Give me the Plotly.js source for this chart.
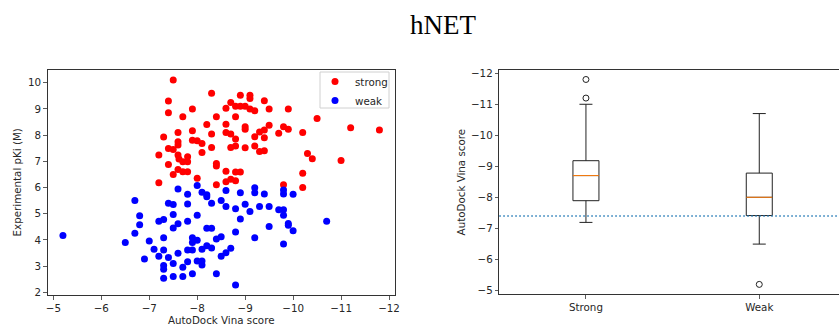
<!DOCTYPE html>
<html><head><meta charset="utf-8">
<script src="https://cdn.plot.ly/plotly-3.0.1.min.js"></script>
<style>html,body{margin:0;padding:0;background:#fff}#chart{width:839px;height:324px}</style>
</head><body><div id="chart"></div>
<script>
// Scatter: strong binders
const strongX = [-7.5,-7.4,-7.4,-7.7,-7.9,-8.3,-8.4,-8.2,-7.9,-7.6,-7.3,-7.6,-7.6,-7.9,-8.0,-8.1,-8.3,-8.3,-8.1,-7.4,-7.5,-7.2,-7.6,-7.62,-7.8,-7.8,-7.7,-7.4,-7.6,-7.7,-7.8,-7.5,-8.0,-8.4,-8.4,-8.4,-7.2,-8.6,-8.7,-8.8,-8.9,-8.9,-9.0,-9.1,-9.1,-9.1,-9.2,-9.4,-9.5,-9.9,-10.5,-8.6,-8.8,-9.0,-9.0,-8.6,-8.7,-8.8,-8.7,-8.8,-9.0,-9.2,-9.2,-9.3,-9.4,-9.4,-9.5,-9.3,-9.4,-9.7,-9.8,-9.9,-10.2,-10.3,-10.4,-11.0,-11.2,-11.8,-8.6,-8.8,-8.9,-8.6,-8.7,-8.8,-9.8,-10.2,-10.2];
const strongY = [10.1,9.3,8.85,8.7,9.0,9.6,8.7,8.4,8.17,8.1,7.93,7.75,7.62,7.8,7.78,7.68,8.04,7.53,7.34,7.49,7.45,7.24,7.24,7.09,7.17,6.98,6.98,6.88,6.69,6.6,6.6,6.5,6.35,6.92,6.82,6.1,6.18,9.02,9.24,9.1,9.52,9.1,9.1,9.52,9.4,9.0,8.93,9.31,9.0,9.0,8.63,8.41,8.7,8.32,8.22,8.1,8.04,7.85,7.53,7.58,7.52,7.58,7.94,8.12,8.19,7.9,8.38,7.37,7.4,8.07,8.32,8.22,8.1,7.3,7.1,7.03,8.28,8.19,6.62,6.59,6.59,6.22,6.31,6.26,6.1,6.54,6.0];
// Scatter: weak binders
const weakX = [-5.2,-6.5,-6.7,-6.7,-6.8,-6.8,-6.9,-7.0,-7.1,-7.2,-7.3,-7.2,-7.3,-7.3,-7.3,-7.3,-7.3,-7.4,-7.5,-7.5,-7.5,-7.4,-7.5,-7.5,-7.6,-7.6,-7.6,-7.7,-7.7,-7.8,-7.8,-7.8,-7.8,-7.8,-7.9,-7.9,-7.9,-7.9,-8.0,-8.0,-8.0,-8.0,-8.1,-8.2,-8.2,-8.3,-8.1,-8.1,-8.1,-8.2,-8.3,-8.2,-8.3,-8.4,-8.4,-8.5,-8.5,-8.5,-8.6,-8.6,-8.6,-8.7,-8.8,-8.8,-8.8,-8.9,-8.9,-9.0,-9.1,-9.2,-9.2,-9.2,-9.3,-9.4,-9.5,-9.5,-9.7,-9.8,-9.8,-9.8,-9.8,-9.8,-9.9,-9.9,-10.0,-10.0,-10.7];
const weakY = [4.17,3.9,5.5,4.25,4.92,4.58,3.27,3.96,3.64,4.71,4.78,3.38,4.08,3.61,3.02,2.88,2.54,5.4,5.35,4.97,4.45,3.33,3.1,2.6,5.94,4.62,3.49,2.96,2.6,5.74,5.37,4.71,3.61,3.17,3.61,2.71,4.08,3.9,6.08,4.94,3.99,3.19,5.82,5.72,5.65,5.4,3.64,3.19,3.04,4.44,4.44,3.78,3.69,4.03,2.71,4.12,3.38,5.5,5.89,5.27,3.51,3.68,5.19,4.3,2.28,5.8,4.8,5.36,5.08,5.99,5.8,4.08,5.27,5.75,5.27,4.51,5.15,5.9,5.75,5.15,4.94,3.84,4.63,4.56,5.74,4.35,4.71];

// Box plot of AutoDock Vina scores (stats)
const boxCategories = ['Strong','Weak'];
const boxPositions = [1, 2];
const boxMin = [-11.0, -10.7];     // upper whisker (most negative)
const boxQ1 = [-9.18, -8.78];
const boxMedian = [-8.70, -8.0];
const boxQ3 = [-7.89, -7.41];
const boxMax = [-7.19, -6.49];     // lower whisker
const outlierGroup = [1, 1, 2];
const outlierValue = [-11.8, -11.2, -5.19];
const threshold = [-7.4];

const boxWidth = 0.15;
const font = {family: 'DejaVu Sans, sans-serif', size: 10.3, color: '#262626'};
const W = 839, H = 324;
const px = v => v / W, py = v => 1 - v / H;

const medX = [], medY = [];
boxPositions.forEach((p, i) => {
  medX.push(p - boxWidth/2, p + boxWidth/2, null);
  medY.push(boxMedian[i], boxMedian[i], null);
});

const traces = [
  {type:'scatter', mode:'markers', name:'strong', x:strongX, y:strongY,
   marker:{color:'#ff0000', size:7}, xaxis:'x', yaxis:'y', hoverinfo:'skip'},
  {type:'scatter', mode:'markers', name:'weak', x:weakX, y:weakY,
   marker:{color:'#0000ff', size:7}, xaxis:'x', yaxis:'y', hoverinfo:'skip'},
  {type:'box', x:boxPositions, q1:boxQ1, median:boxMedian, q3:boxQ3,
   lowerfence:boxMin, upperfence:boxMax, width:boxWidth, whiskerwidth:0.5,
   line:{color:'#222', width:1}, fillcolor:'rgba(0,0,0,0)', boxpoints:false,
   xaxis:'x2', yaxis:'y2', showlegend:false, hoverinfo:'skip'},
  {type:'scatter', mode:'lines', x:medX, y:medY, line:{color:'#ff7f0e', width:1},
   xaxis:'x2', yaxis:'y2', showlegend:false, hoverinfo:'skip'},
  {type:'scatter', mode:'markers', x:outlierGroup.map(g => boxPositions[g-1]), y:outlierValue,
   marker:{symbol:'circle-open', size:6, color:'#222', line:{width:1}},
   xaxis:'x2', yaxis:'y2', showlegend:false, hoverinfo:'skip'}
];

const axBase = {showgrid:false, zeroline:false, showline:true, linecolor:'#333', linewidth:1,
  ticks:'outside', ticklen:3.5, tickwidth:0.8, tickcolor:'#333', tickfont:font, automargin:false};

const layout = {
  width:W, height:H, margin:{l:0, r:0, t:0, b:0},
  paper_bgcolor:'#fff', plot_bgcolor:'#fff',
  title:{text:'hNET', font:{family:'Liberation Serif, Times New Roman, serif', size:27, color:'#000'},
         x:0.528, xanchor:'center', y:0.925, yanchor:'middle', xref:'paper', yref:'container'},
  showlegend:true,
  legend:{x:px(315), xanchor:'left', y:py(67), yanchor:'top', bgcolor:'rgba(0,0,0,0)',
          borderwidth:0, font:font, itemwidth:30, tracegroupgap:0},
  xaxis:Object.assign({}, axBase, {domain:[0.0569, 0.4708], range:[-4.883, -12.125], tick0:0, dtick:1, mirror:true}),
  yaxis:Object.assign({}, axBase, {domain:[0.0895, 0.784], range:[1.897, 10.485], tick0:0, dtick:1, mirror:true}),
  xaxis2:Object.assign({}, axBase, {domain:[0.5951, 1], range:[0.5, 2.46], tickvals:boxPositions, ticktext:boxCategories, mirror:true, anchor:'y2'}),
  yaxis2:Object.assign({}, axBase, {domain:[0.0917, 0.784], range:[-4.871, -12.106], tick0:0, dtick:1, anchor:'x2'}),
  shapes:[
    {type:'line', xref:'x2 domain', x0:0, x1:1, yref:'y2', y0:threshold[0], y1:threshold[0],
     line:{color:'#1f77b4', width:1.5, dash:'1.5px,2.5px'}},
    {type:'rect', xref:'paper', yref:'paper', x0:px(320), x1:px(389), y0:py(108), y1:py(72),
     layer:'above', fillcolor:'rgba(255,255,255,0.85)', line:{color:'#d0d0d0', width:1}}
  ],
  annotations:[
    {text:'AutoDock Vina score', xref:'paper', yref:'paper', x:px(221), y:py(320), xanchor:'center', yanchor:'middle', showarrow:false, font:font},
    {text:'Experimental pKi (M)', xref:'paper', yref:'paper', x:px(16.7), y:py(182.7), xanchor:'center', yanchor:'middle', textangle:-90, showarrow:false, font:font},
    {text:'AutoDock Vina score', xref:'paper', yref:'paper', x:px(460.7), y:py(181.7), xanchor:'center', yanchor:'middle', textangle:-90, showarrow:false, font:font}
  ]
};

Plotly.newPlot('chart', traces, layout, {staticPlot:true, displayModeBar:false});
</script>
</body></html>
